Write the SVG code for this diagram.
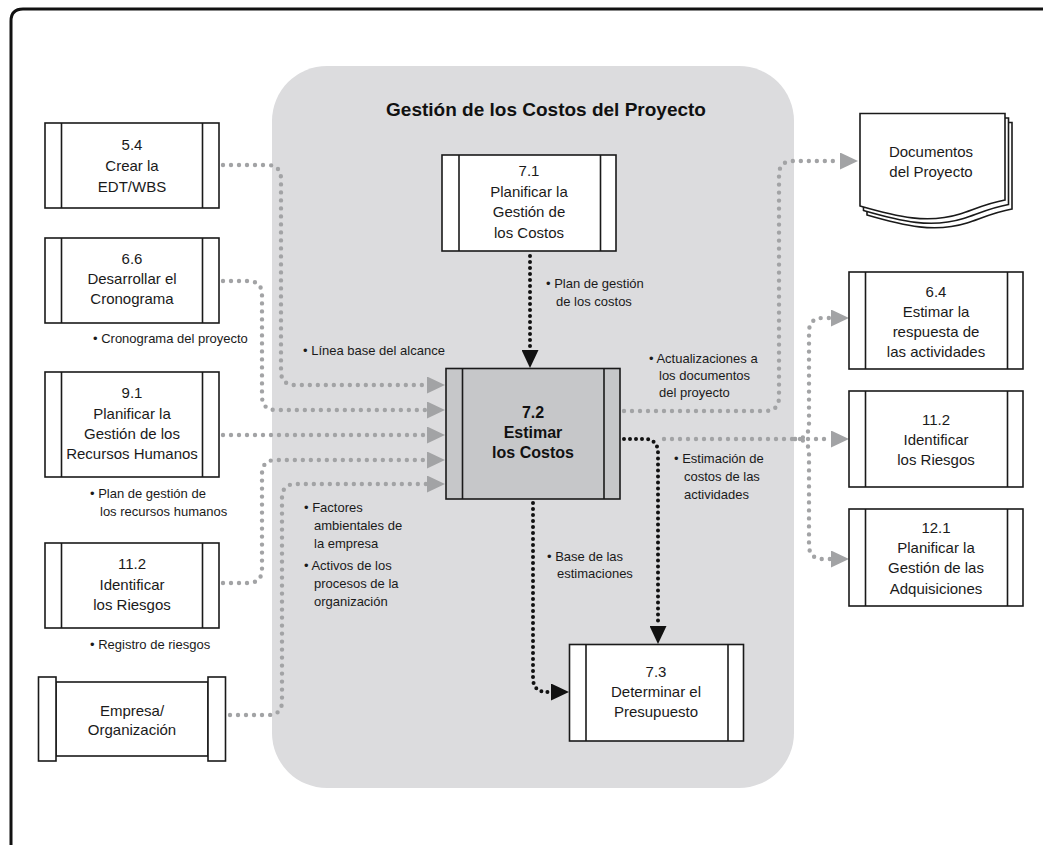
<svg xmlns="http://www.w3.org/2000/svg" width="1043" height="845" viewBox="0 0 1043 845">
<style>
.box{fill:#fff;stroke:#1a1a1a;stroke-width:1.6}
.bar{stroke:#1a1a1a;stroke-width:1.6}
.t{font-family:"Liberation Sans",Arial,sans-serif;font-size:15px;fill:#1a1a1a;text-anchor:middle}
.tb{font-family:"Liberation Sans",Arial,sans-serif;font-size:16px;font-weight:bold;fill:#111;text-anchor:middle}
.lb{font-family:"Liberation Sans",Arial,sans-serif;font-size:13px;fill:#1a1a1a}
.gd{fill:none;stroke:#a2a3a5;stroke-width:4.4;stroke-linecap:round;stroke-dasharray:0 8}
.bd{fill:none;stroke:#111;stroke-width:4;stroke-linecap:round;stroke-dasharray:0 6}
</style>
<defs>
<marker id="ag" markerUnits="userSpaceOnUse" viewBox="0 0 18 17" refX="0" refY="8.5" markerWidth="18" markerHeight="17" orient="auto"><path d="M0,0 L18,8.5 L0,17 Z" fill="#a2a3a5"/></marker>
<marker id="ab" markerUnits="userSpaceOnUse" viewBox="0 0 18 17" refX="0" refY="8.5" markerWidth="18" markerHeight="17" orient="auto"><path d="M0,0 L18,8.5 L0,17 Z" fill="#111"/></marker>
</defs>
<rect width="1043" height="845" fill="#fff"/>
<path d="M11,845 V21 Q11,9 23,9 H1043" fill="none" stroke="#111" stroke-width="3"/>
<g id="container">
<rect x="272" y="66" width="522" height="722" rx="55" ry="55" fill="#dcdcde"/>
<text x="546" y="116" font-family="'Liberation Sans',Arial,sans-serif" font-size="19" font-weight="bold" fill="#111" text-anchor="middle">Gestión de los Costos del Proyecto</text>
</g>
<g id="connectors">
<path class="gd" d="M223,165 H267 Q281,165 281,179 V371 Q281,385 295,385 H427" marker-end="url(#ag)"/>
<path class="gd" d="M223,281 H248 Q262,281 262,295 V396 Q262,410 276,410 H427" marker-end="url(#ag)"/>
<path class="gd" d="M223,435 H427" marker-end="url(#ag)"/>
<path class="gd" d="M223,583 H248 Q262,583 262,569 V474 Q262,460 276,460 H427" marker-end="url(#ag)"/>
<path class="gd" d="M230,715 H268 Q282,715 282,701 V498 Q282,484 296,484 H427" marker-end="url(#ag)"/>
<path class="bd" d="M530,256 V350" marker-end="url(#ab)"/>
<path class="gd" d="M624,411 H765 Q779,411 779,397 V175 Q779,161 793,161 H840" marker-end="url(#ag)"/>
<path class="gd" d="M664,439 H831" marker-end="url(#ag)"/>
<path class="gd" d="M795,439 Q809,439 809,425 V332 Q809,318 823,318 H831" marker-end="url(#ag)"/>
<path class="gd" d="M795,439 Q809,439 809,453 V545 Q809,559 823,559 H831" marker-end="url(#ag)"/>
<path class="bd" d="M624,439 H644 Q658,439 658,453 V626" marker-end="url(#ab)"/>
<path class="bd" d="M533,503 V678 Q533,692 547,692 H551" marker-end="url(#ab)"/>
</g>
<g id="n54">
<rect class="box" x="45" y="123" width="174" height="85"/>
<line class="bar" x1="61.5" y1="123" x2="61.5" y2="208"/><line class="bar" x1="202.5" y1="123" x2="202.5" y2="208"/>
<text class="t" x="132" y="150">5.4</text><text class="t" x="132" y="171">Crear la</text><text class="t" x="132" y="192">EDT/WBS</text>
</g>
<g id="n66">
<rect class="box" x="45" y="238" width="174" height="85"/>
<line class="bar" x1="61.5" y1="238" x2="61.5" y2="323"/><line class="bar" x1="202.5" y1="238" x2="202.5" y2="323"/>
<text class="t" x="132" y="264">6.6</text><text class="t" x="132" y="284">Desarrollar el</text><text class="t" x="132" y="304">Cronograma</text>
</g>
<g id="n91">
<rect class="box" x="45" y="372" width="174" height="105"/>
<line class="bar" x1="61.5" y1="372" x2="61.5" y2="477"/><line class="bar" x1="202.5" y1="372" x2="202.5" y2="477"/>
<text class="t" x="132" y="398">9.1</text><text class="t" x="132" y="418.5">Planificar la</text><text class="t" x="132" y="439">Gestión de los</text><text class="t" x="132" y="459">Recursos Humanos</text>
</g>
<g id="n112a">
<rect class="box" x="45" y="543" width="174" height="85"/>
<line class="bar" x1="61.5" y1="543" x2="61.5" y2="628"/><line class="bar" x1="202.5" y1="543" x2="202.5" y2="628"/>
<text class="t" x="132" y="569">11.2</text><text class="t" x="132" y="589.5">Identificar</text><text class="t" x="132" y="610">los Riesgos</text>
</g>
<g id="nempresa">
<rect class="box" x="56" y="682" width="152" height="74"/>
<rect class="box" x="38.5" y="677" width="17.5" height="84"/>
<rect class="box" x="208" y="677" width="17.5" height="84"/>
<text class="t" x="132" y="716">Empresa/</text><text class="t" x="132" y="735">Organización</text>
</g>
<g id="n71">
<rect class="box" x="442" y="155" width="174" height="96"/>
<line class="bar" x1="459" y1="155" x2="459" y2="251"/><line class="bar" x1="600.5" y1="155" x2="600.5" y2="251"/>
<text class="t" x="529" y="176">7.1</text><text class="t" x="529" y="197">Planificar la</text><text class="t" x="529" y="217">Gestión de</text><text class="t" x="529" y="238">los Costos</text>
</g>
<g id="n72">
<rect class="box" x="446" y="368.5" width="174" height="130.5" style="fill:#c6c7c9"/>
<line class="bar" x1="462.5" y1="368.5" x2="462.5" y2="499"/><line class="bar" x1="604" y1="368.5" x2="604" y2="499"/>
<text class="tb" x="533" y="418">7.2</text><text class="tb" x="533" y="438">Estimar</text><text class="tb" x="533" y="458">los Costos</text>
</g>
<g id="n73">
<rect class="box" x="569.5" y="644.5" width="174" height="96.5"/>
<line class="bar" x1="586" y1="644.5" x2="586" y2="741"/><line class="bar" x1="728" y1="644.5" x2="728" y2="741"/>
<text class="t" x="656" y="677">7.3</text><text class="t" x="656" y="697">Determinar el</text><text class="t" x="656" y="717">Presupuesto</text>
</g>
<g id="ndocs">
<path class="box" d="M867,122.5 H1012 V209 C995,212 982,218 967,223 C935,233 905,226 867,215 Z"/>
<path class="box" d="M863.5,118 H1008.5 V204.5 C991.5,207.5 978.5,213.5 963.5,218.5 C931.5,228.5 901.5,221.5 863.5,210.5 Z"/>
<path class="box" d="M860,113.5 H1005 V200 C988,203 975,209 960,214 C928,224 898,217 860,206 Z"/>
<text class="t" x="931" y="157">Documentos</text><text class="t" x="931" y="177">del Proyecto</text>
</g>
<g id="n64">
<rect class="box" x="849" y="272" width="174" height="97"/>
<line class="bar" x1="865.5" y1="272" x2="865.5" y2="369"/><line class="bar" x1="1007.5" y1="272" x2="1007.5" y2="369"/>
<text class="t" x="936" y="297">6.4</text><text class="t" x="936" y="317">Estimar la</text><text class="t" x="936" y="337">respuesta de</text><text class="t" x="936" y="357">las actividades</text>
</g>
<g id="n112b">
<rect class="box" x="849" y="391" width="174" height="96"/>
<line class="bar" x1="865.5" y1="391" x2="865.5" y2="487"/><line class="bar" x1="1007.5" y1="391" x2="1007.5" y2="487"/>
<text class="t" x="936" y="425">11.2</text><text class="t" x="936" y="445">Identificar</text><text class="t" x="936" y="465">los Riesgos</text>
</g>
<g id="n121">
<rect class="box" x="849" y="509" width="174" height="97"/>
<line class="bar" x1="865.5" y1="509" x2="865.5" y2="606"/><line class="bar" x1="1007.5" y1="509" x2="1007.5" y2="606"/>
<text class="t" x="936" y="533">12.1</text><text class="t" x="936" y="553">Planificar la</text><text class="t" x="936" y="573">Gestión de las</text><text class="t" x="936" y="594">Adquisiciones</text>
</g>
<g id="labels">
<text class="lb" x="93" y="343">• Cronograma del proyecto</text>
<text class="lb"><tspan x="90" y="498">• Plan de gestión de</tspan><tspan x="100" y="516">los recursos humanos</tspan></text>
<text class="lb" x="90" y="649">• Registro de riesgos</text>
<text class="lb" x="303" y="355">• Línea base del alcance</text>
<text class="lb"><tspan x="546" y="288">• Plan de gestión</tspan><tspan x="556" y="306">de los costos</tspan></text>
<text class="lb"><tspan x="649" y="363">• Actualizaciones a</tspan><tspan x="659" y="380">los documentos</tspan><tspan x="659" y="397">del proyecto</tspan></text>
<text class="lb"><tspan x="674" y="463">• Estimación de</tspan><tspan x="684" y="481">costos de las</tspan><tspan x="684" y="499">actividades</tspan></text>
<text class="lb"><tspan x="304" y="512">• Factores</tspan><tspan x="314" y="529.5">ambientales de</tspan><tspan x="314" y="547.5">la empresa</tspan><tspan x="304" y="570">• Activos de los</tspan><tspan x="314" y="588">procesos de la</tspan><tspan x="314" y="606">organización</tspan></text>
<text class="lb"><tspan x="547" y="561">• Base de las</tspan><tspan x="557" y="578">estimaciones</tspan></text>
</g>
</svg>
